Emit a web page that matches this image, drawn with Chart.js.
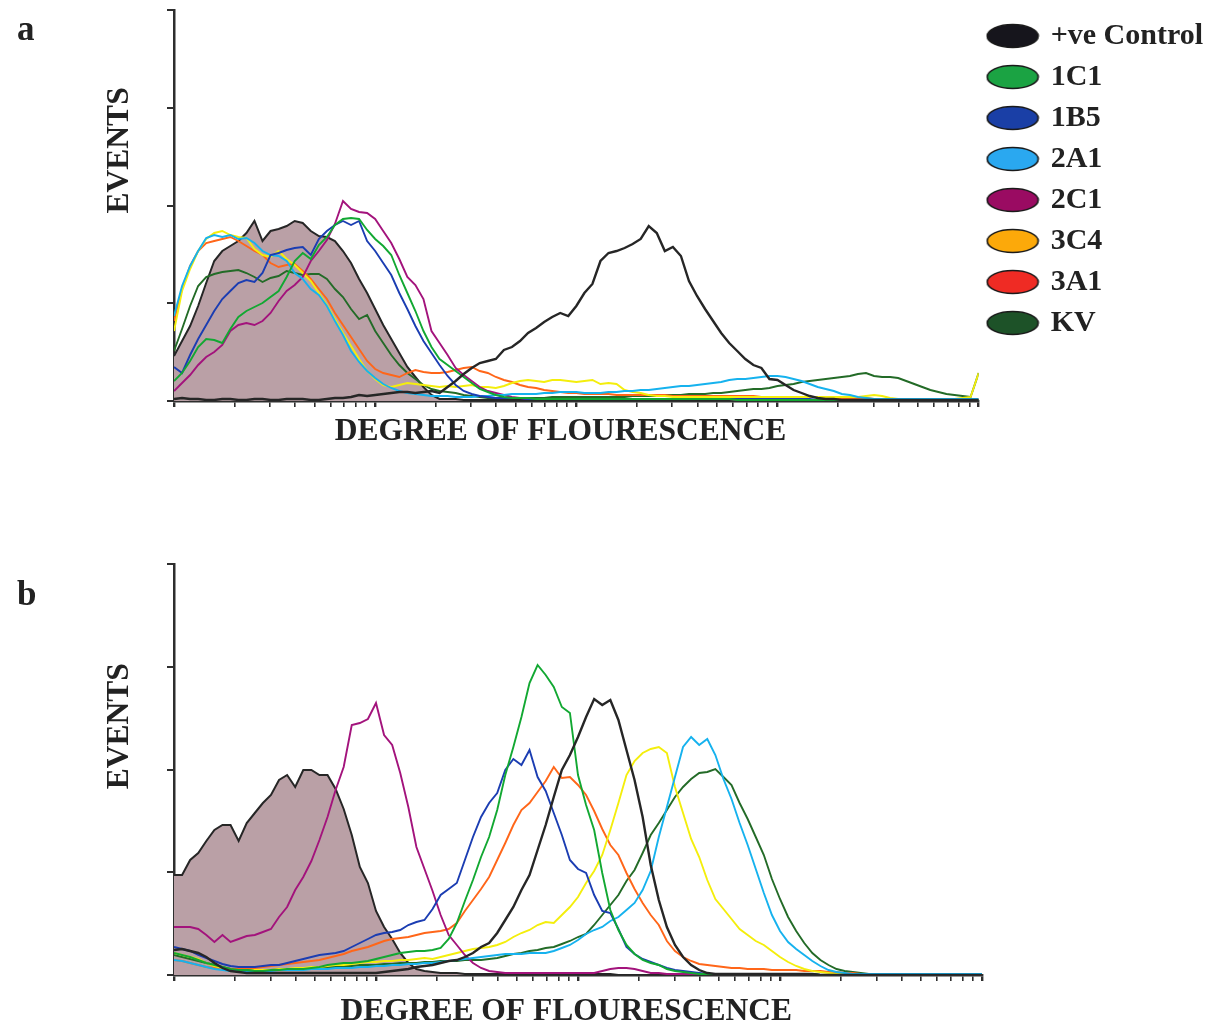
<!DOCTYPE html>
<html>
<head>
<meta charset="utf-8">
<script src="https://cdn.jsdelivr.net/npm/chart.js@4.4.1/dist/chart.umd.min.js"></script>
<style>
html,body{margin:0;padding:0;background:#fff;overflow:hidden;width:1216px;height:1028px;}
#wrap{position:relative;width:1216px;height:1028px;overflow:hidden;}
canvas{position:absolute;left:0;}
#ca{top:0;}
#cb{top:520px;}
.lab{position:absolute;left:17px;font:bold 35px 'Liberation Serif','Times New Roman',serif;line-height:35px;color:#222;}
</style>
</head>
<body>
<div id="wrap">
<canvas id="ca" width="1216" height="470"></canvas>
<canvas id="cb" width="1216" height="540"></canvas>
<div class="lab" style="top:11px">a</div>
<div class="lab" style="top:576px">b</div>
</div>
<script>
// ---------- shared axis data ----------
// 101 channels spanning 4 log decades (25 channels per decade)
const channels = Array.from({length: 101}, (_, i) => i);
const decadeMultipliers = [1, 2, 3, 4, 5, 6, 7, 8, 9];
const decadeCount = 4;
const yTickFractions = [0, 0.25, 0.5, 0.75, 1];

const seriesNames = ['+ve Control', '1C1', '1B5', '2A1', '2C1', '3C4', '3A1', 'KV'];
const lineColors = ['#262626', '#12a832', '#1b3db2', '#16b2ee', '#a3137c', '#f4ee0c', '#ff6619', '#236b27'];
const legendColors = ['#16151c', '#1ba343', '#1a3fa6', '#2aa8f0', '#9a0b62', '#fca90a', '#ef2b24', '#1d5228'];
const negFillColor = 'rgb(186,160,166)';
const axisColor = '#2e2e2e';
const textColor = '#222222';

// ---------- panel a (events per channel) ----------
const aPos = [2,3,2,2,1,1,2,2,1,1, 2,2,1,1,2,2,2,1,1,2, 3,3,4,6,5,6,7,8,9,9, 8,9,10,8,14,20,27,33,38,40, 42,51,54,60,68,73,79,84,88,85, 95,108,117,140,148,150,153,157,162,175, 168,150,154,145,120,105,92,80,68,58, 50,42,36,33,22,21,16,11,8,5, 3,2,2,1,1,1,1,1,1,1, 1,1,1,1,1,1,1,1,1,1, 1];
const a1C1 = [20,28,40,54,62,61,58,72,84,90, 94,98,104,110,124,140,148,142,156,164, 176,182,183,182,171,162,155,146,126,108, 90,70,54,42,36,30,24,18,12,9, 6,4,3,3,3,2,2,2,2,2, 2,2,2,2,2,2,2,2,2,2, 2,2,2,2,2,2,2,2,2,2, 1,1,1,1,1,1,1,1,1,1, 1,1,1,1,1,1,1,1,1,1, 1,1,1,1,1,1,1,1,1,1, 1];
const a1B5 = [34,28,46,62,76,90,102,110,118,121, 119,128,146,148,151,153,154,146,162,170, 176,180,176,180,160,150,138,126,108,92, 75,60,48,36,25,16,10,7,5,4, 3,3,3,3,2,2,2,2,2,2, 2,2,2,2,2,2,2,2,2,2, 2,2,2,2,2,2,2,2,2,2, 2,2,2,2,2,2,2,2,2,2, 1,1,1,1,1,1,1,1,1,1, 1,1,1,1,1,1,1,1,1,1, 1];
const a2A1 = [85,115,135,150,163,166,164,166,162,163, 158,150,146,145,140,128,122,112,106,95, 80,66,50,39,30,23,17,13,10,8, 7,6,5,5,5,4,4,4,5,5, 6,6,7,7,7,7,8,8,9,9, 9,8,8,8,9,9,10,10,11,11, 12,13,14,15,15,16,17,18,19,21, 22,22,23,24,25,25,24,22,20,17, 14,12,10,7,6,4,3,2,2,2, 2,2,2,2,2,2,2,2,2,2, 2];
const a2C1 = [10,18,26,36,44,49,56,70,76,78, 76,80,88,100,110,116,124,140,150,161, 177,200,192,189,188,182,170,158,142,124, 116,102,70,58,46,33,26,20,14,10, 8,6,4,3,2,2,2,2,2,2, 2,2,2,2,2,2,2,2,2,2, 2,2,2,2,2,2,2,2,2,2, 1,1,1,1,1,1,1,1,1,1, 1,1,1,1,1,1,1,1,1,1, 1,1,1,1,1,1,1,1,1,1, 1];
const a3C4 = [70,110,132,150,162,168,170,166,164,163, 152,146,144,150,142,136,128,120,108,96, 82,68,55,42,30,22,16,14,16,18, 17,16,15,14,15,14,15,16,14,14, 13,15,18,20,21,20,19,21,21,20, 19,20,21,17,18,17,11,9,8,6, 5,5,4,4,4,4,4,4,4,4, 4,4,4,4,4,4,4,4,4,4, 4,4,4,4,4,4,5,6,5,3, 2,2,2,2,2,2,2,2,3,4, 28];
const a3A1 = [80,112,135,150,158,160,162,164,160,155, 150,146,138,134,136,137,130,122,112,102, 88,76,64,52,40,32,28,26,24,28, 31,29,28,28,29,31,33,34,30,28, 24,21,19,16,14,13,11,10,9,8, 8,7,7,7,7,6,6,6,6,6, 6,6,5,5,5,5,5,5,5,5, 5,5,5,4,4,4,4,4,4,4, 4,4,3,3,3,3,3,2,2,2, 2,2,2,2,2,2,2,2,2,2, 2];
const aKV = [50,72,95,115,124,127,129,130,131,128, 124,119,123,125,130,128,126,127,127,122, 112,104,92,82,86,70,58,46,36,28, 22,16,12,10,9,8,6,5,4,3, 3,3,3,3,3,3,3,4,4,4, 4,4,4,4,4,4,4,5,5,5, 5,6,6,6,7,7,7,8,8,9, 10,11,12,12,13,15,16,17,19,20, 21,22,23,24,25,27,28,25,24,24, 23,20,17,14,11,9,7,6,5,4, 28];
const aNeg = [45,60,75,95,118,140,150,155,160,168, 180,160,170,172,175,180,178,170,165,164, 160,150,138,122,108,92,76,62,48,34, 24,14,6,2,2,2,1,1,1,1, 1,1,1,1,1,1,1,1,1,1, 1,1,1,1,1,1,0,0,0,0, 0,0,0,0,0,0,0,0,0,0, 0,0,0,0,0,0,0,0,0,0, 0,0,0,0,0,0,0,0,0,0, 0,0,0,0,0,0,0,0,0,0, 0];

// ---------- panel b (events per channel) ----------
const bPos = [25,26,24,22,18,12,7,4,3,2, 2,2,2,2,2,2,2,2,2,2, 2,2,2,2,2,2,3,4,5,6, 8,9,10,12,14,15,18,22,28,32, 42,55,68,85,100,125,150,178,205,220, 238,258,276,270,275,255,225,195,158,110, 75,48,30,18,10,5,2,1,1,1, 1,1,1,1,1,1,1,1,1,1, 0,0,0,0,0,0,0,0,0,0, 0,0,0,0,0,0,0,0,0,0, 0];
const b1C1 = [22,20,18,15,12,10,8,6,5,5, 4,4,5,5,6,6,6,7,8,10, 11,12,12,13,14,16,18,20,22,23, 24,24,25,27,36,52,74,95,118,138, 165,200,228,258,292,310,300,288,268,262, 200,170,145,102,65,45,30,21,15,12, 10,6,4,3,2,1,1,1,1,1, 1,1,1,1,1,1,1,1,1,1, 0,0,0,0,0,0,0,0,0,0, 0,0,0,0,0,0,0,0,0,0, 0];
const b1B5 = [28,26,24,20,17,14,11,9,8,8, 8,9,10,10,12,14,16,18,20,21, 22,24,28,32,36,40,42,43,45,50, 53,55,66,80,86,92,115,138,158,172, 182,205,216,210,225,198,184,162,140,115, 106,102,80,64,62,46,28,21,16,13, 10,7,5,4,3,2,1,1,1,1, 1,1,1,1,1,1,1,1,1,1, 0,0,0,0,0,0,0,0,0,0, 0,0,0,0,0,0,0,0,0,0, 0];
const b2A1 = [15,14,12,10,8,6,5,4,4,4, 4,4,4,5,5,5,5,6,6,6, 7,7,7,8,8,9,9,10,10,11, 11,12,12,13,14,15,16,17,18,19, 20,21,21,21,22,22,22,24,27,30, 35,41,45,48,54,58,65,72,85,104, 138,168,198,228,238,230,236,220,196,176, 152,130,106,82,60,44,33,26,20,14, 9,5,3,2,1,1,1,1,1,1, 1,1,1,1,1,1,1,1,1,1, 1];
const b2C1 = [48,48,48,46,40,33,40,33,36,39, 40,43,46,58,68,85,98,114,135,158, 185,208,250,252,256,272,240,230,202,168, 128,106,84,60,40,30,20,12,7,4, 3,2,2,2,2,2,2,2,2,2, 2,2,2,4,6,7,7,6,4,2, 2,1,1,1,1,1,1,1,1,1, 1,1,1,1,1,1,1,1,1,1, 0,0,0,0,0,0,0,0,0,0, 0,0,0,0,0,0,0,0,0,0, 0];
const b3C4 = [22,20,18,16,12,9,7,5,4,4, 5,5,5,6,6,7,7,8,8,9, 10,10,11,12,13,13,14,14,15,15, 16,17,16,18,20,22,24,26,27,28, 30,33,38,42,45,50,53,52,60,68, 78,92,104,120,145,172,200,214,222,226, 228,222,188,162,136,118,95,76,66,56, 46,40,34,30,24,18,13,9,6,4, 3,2,1,1,1,1,1,1,1,1, 1,1,1,1,1,1,1,1,1,1, 1];
const b3A1 = [15,14,12,10,8,7,7,6,6,7, 7,8,9,10,11,12,13,14,15,17, 19,21,24,26,28,31,34,36,37,38, 40,42,43,44,46,52,64,75,86,98, 115,132,150,165,172,183,194,208,197,198, 190,180,164,146,130,120,102,86,72,60, 50,34,24,18,14,11,10,9,8,7, 7,6,6,6,5,5,5,5,4,4, 4,3,3,2,2,1,1,1,1,1, 1,1,1,1,1,1,1,1,1,1, 1];
const bKV = [20,18,16,14,12,10,8,6,5,5, 5,5,5,6,6,6,7,7,7,8, 8,9,9,10,10,10,11,11,12,12, 12,13,13,14,14,14,15,15,15,16, 17,19,21,22,24,25,27,28,31,34, 38,41,50,60,70,80,94,105,122,140, 152,165,178,188,196,202,203,206,198,190, 172,156,138,120,96,76,58,44,32,22, 15,10,6,4,3,2,1,1,1,1, 1,1,1,1,1,1,1,1,1,1, 1];
const bNeg = [100,100,115,122,134,145,150,150,134,152, 162,172,180,195,200,188,205,205,200,200, 186,166,140,108,92,64,48,36,22,12, 6,4,3,2,2,2,1,1,1,1, 1,1,1,1,1,1,1,1,1,1, 1,1,1,1,1,0,0,0,0,0, 0,0,0,0,0,0,0,0,0,0, 0,0,0,0,0,0,0,0,0,0, 0,0,0,0,0,0,0,0,0,0, 0,0,0,0,0,0,0,0,0,0, 0];

const aYMax = 391;
const bYMax = 411;

// ---------- helpers ----------
const channelsPerDecade = (channels.length - 1) / decadeCount;
const xTickChannels = [];
const majorChannels = new Set();
for (let d = 0; d < decadeCount; d++) {
  decadeMultipliers.forEach(m => {
    const c = channelsPerDecade * (d + Math.log10(m));
    xTickChannels.push(c);
    if (m === 1) majorChannels.add(c);
  });
}
xTickChannels.push(channels.length - 1);
majorChannels.add(channels.length - 1);

function makeSwatch(color) {
  const c = document.createElement('canvas');
  c.width = 54; c.height = 26;
  const g = c.getContext('2d');
  g.beginPath();
  g.ellipse(27, 13, 25.5, 11.5, 0, 0, Math.PI * 2);
  g.fillStyle = color;
  g.fill();
  g.lineWidth = 1.6;
  g.strokeStyle = '#1a1a1a';
  g.stroke();
  return c;
}
const swatches = legendColors.map(makeSwatch);

function toPoints(vals) {
  return vals.map((v, i) => ({x: channels[i], y: v}));
}

function makeDatasets(lines, neg) {
  const ds = lines.map((vals, i) => ({
    label: seriesNames[i],
    data: toPoints(vals),
    borderColor: lineColors[i],
    borderWidth: i === 0 ? 2.4 : 1.9,
    pointRadius: 0,
    fill: false,
    tension: 0
  }));
  ds.push({
    label: 'negative',
    data: toPoints(neg),
    borderColor: '#262626',
    borderWidth: 2,
    backgroundColor: negFillColor,
    fill: 'origin',
    pointRadius: 0,
    tension: 0
  });
  return ds;
}

const titleFont = {family: "'Liberation Serif', 'Times New Roman', serif", weight: 'bold', size: 31.5, lineHeight: 1.2};

function makeOptions(yMax, yTitle, xTitle, pad, xTitlePadTop, withLegend) {
  return {
    responsive: false,
    animation: false,
    events: [],
    layout: {padding: pad},
    plugins: {
      tooltip: {enabled: false},
      title: {display: false},
      legend: withLegend ? {
        display: true,
        position: 'right',
        align: 'start',
        labels: {
          usePointStyle: true,
          pointStyleWidth: 46,
          padding: 11,
          color: textColor,
          font: {family: "'Liberation Serif', 'Times New Roman', serif", weight: 'bold', size: 30},
          generateLabels: () => seriesNames.map((n, i) => ({
            text: n,
            pointStyle: swatches[i],
            fillStyle: legendColors[i],
            strokeStyle: '#1a1a1a',
            lineWidth: 0,
            hidden: false,
            datasetIndex: i,
            fontColor: textColor
          }))
        }
      } : {display: false}
    },
    scales: {
      x: {
        type: 'linear',
        min: channels[0],
        max: channels[channels.length - 1],
        afterBuildTicks: s => { s.ticks = xTickChannels.map(v => ({value: v})); },
        ticks: {display: false},
        grid: {
          display: true,
          drawOnChartArea: false,
          drawTicks: true,
          tickLength: 6,
          color: axisColor,
          lineWidth: c => (c.tick && majorChannels.has(c.tick.value)) ? 2.4 : 1.6
        },
        border: {display: true, color: axisColor, width: 2.5},
        title: {display: true, text: xTitle, color: textColor, font: titleFont, padding: {top: xTitlePadTop, bottom: 4}}
      },
      y: {
        type: 'linear',
        min: 0,
        max: yMax,
        afterBuildTicks: s => { s.ticks = yTickFractions.map(f => ({value: f * yMax})); },
        ticks: {display: false},
        grid: {
          display: true,
          drawOnChartArea: false,
          drawTicks: true,
          tickLength: 7,
          color: axisColor,
          lineWidth: 2
        },
        border: {display: true, color: axisColor, width: 2.5},
        title: {display: true, text: yTitle, color: textColor, font: titleFont, padding: {top: 6.1, bottom: 28.1}}
      }
    }
  };
}

new Chart(document.getElementById('ca'), {
  type: 'line',
  data: {datasets: makeDatasets([aPos, a1C1, a1B5, a2A1, a2C1, a3C4, a3A1, aKV], aNeg)},
  options: makeOptions(aYMax,
    '\u2002\u2002\u2002\u2002\u2002\u2002\u2002EVENTS',
    'DEGREE OF FLOURESCENCE\u2002\u2002',
    {top: 10, left: 95, right: 3, bottom: 15.1}, 6.1, true)
});

new Chart(document.getElementById('cb'), {
  type: 'line',
  data: {datasets: makeDatasets([bPos, b1C1, b1B5, b2A1, b2C1, b3C4, b3A1, bKV], bNeg)},
  options: makeOptions(bYMax,
    '\u2002\u2002\u2002\u2002\u2002 EVENTS',
    'DEGREE OF FLOURESCENCE\u2002 ',
    {top: 44, left: 95, right: 234, bottom: 25.1}, 12.1, false)
});
</script>
</body>
</html>
